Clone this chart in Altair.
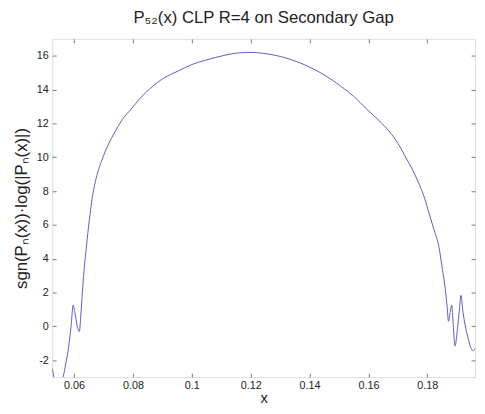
import altair as alt
import pandas as pd

TITLE = "P\u2085\u2082(x) CLP R=4 on Secondary Gap"
X_TITLE = "x"
Y_TITLE = "sgn(P\u2099(x))\u00b7log(|P\u2099(x)|)"

X_VALUES = [0.0526, 0.0533, 0.0545, 0.0556, 0.0563, 0.0572, 0.0581, 0.0590, 0.0597, 0.0603,
            0.0611, 0.0618, 0.0624, 0.0632, 0.0642, 0.0652, 0.0661, 0.0675, 0.0694, 0.0715,
            0.0739, 0.0765, 0.0794, 0.0825, 0.0861, 0.0905, 0.0950, 0.1000, 0.1039, 0.1080,
            0.1117, 0.1160, 0.1200, 0.1240, 0.1283, 0.1340, 0.1394, 0.1450, 0.1506, 0.1550,
            0.1594, 0.1635, 0.1672, 0.1700, 0.1728, 0.1750, 0.1772, 0.1790, 0.1806, 0.1822,
            0.1839, 0.1851, 0.1861, 0.1867, 0.1872, 0.1878, 0.1883, 0.1888, 0.1894, 0.1902,
            0.1909, 0.1914, 0.1920, 0.1928, 0.1937, 0.1944, 0.1950, 0.1956, 0.1962]
Y_VALUES = [-2.5, -3.1, -3.8, -3.4, -3.0, -2.2, -1.3, 0.0, 1.25, 0.8,
            0.0, -0.3, 0.9, 2.9, 4.7, 6.3, 7.5, 8.75, 9.8, 10.7,
            11.5, 12.25, 12.85, 13.5, 14.1, 14.68, 15.07, 15.48, 15.7, 15.9,
            16.05, 16.17, 16.2, 16.15, 16.03, 15.76, 15.38, 14.87, 14.2, 13.6,
            12.85, 12.18, 11.5, 10.82, 9.95, 9.25, 8.41, 7.62, 6.67, 5.75,
            4.73, 3.4, 2.2, 1.2, 0.3, 0.9, 1.25, 0.1, -1.16, -0.2,
            1.0, 1.83, 1.0, 0.1, -0.6, -1.07, -1.35, -1.45, -1.3]

X_DOMAIN = [0.0526, 0.1962]
Y_DOMAIN = [-3, 17]
X_TICKS = [0.06, 0.08, 0.10, 0.12, 0.14, 0.16, 0.18]
Y_TICKS = [-2, 0, 2, 4, 6, 8, 10, 12, 14, 16]

df = pd.DataFrame({"x": X_VALUES, "y": Y_VALUES})

FONT = "Liberation Sans"
AXIS_COLOR = "#7a7a7a"
LABEL_COLOR = "#222222"
LINE_COLOR = "#5e5eba"

xscale = alt.Scale(domain=X_DOMAIN, nice=False, zero=False)
yscale = alt.Scale(domain=Y_DOMAIN, nice=False, zero=False)

main = alt.Chart(df).mark_line(clip=True, color=LINE_COLOR, strokeWidth=1, interpolate="monotone").encode(
    x=alt.X("x:Q", scale=xscale, title=X_TITLE,
            axis=alt.Axis(orient="bottom", values=X_TICKS, format=".2~f", grid=False, domain=False,
                          offset=-4, tickSize=4, tickColor=AXIS_COLOR, labelColor=LABEL_COLOR,
                          labelFont=FONT, labelFontSize=11, labelPadding=3,
                          titleFont=FONT, titleFontSize=15, titleFontWeight="normal",
                          titleColor=LABEL_COLOR, titleBaseline="alphabetic", titleY=30)),
    y=alt.Y("y:Q", scale=yscale, title=Y_TITLE,
            axis=alt.Axis(orient="left", values=Y_TICKS, labelExpr="'' + datum.value", grid=False,
                          domain=False, offset=-4, tickSize=4, tickColor=AXIS_COLOR,
                          labelColor=LABEL_COLOR, labelFont=FONT, labelFontSize=11, labelPadding=4,
                          titleFont=FONT, titleFontSize=17, titleFontWeight="normal",
                          titleColor=LABEL_COLOR, titlePadding=6)),
)

mirror = alt.Chart(df).mark_line(clip=True, strokeOpacity=0).encode(
    x=alt.X("x:Q", scale=xscale, title=None,
            axis=alt.Axis(orient="top", values=X_TICKS, labels=False, grid=False, domain=False,
                          offset=-4, tickSize=4, tickColor=AXIS_COLOR)),
    y=alt.Y("y:Q", scale=yscale, title=None,
            axis=alt.Axis(orient="right", values=Y_TICKS, labels=False, grid=False, domain=False,
                          offset=-4, tickSize=4, tickColor=AXIS_COLOR)),
)

chart = alt.layer(main, mirror).resolve_axis(x="independent", y="independent").properties(
    width=430,
    height=344,
    autosize=alt.AutoSizeParams(type="none"),
    padding={"left": 45, "top": 28, "right": 2, "bottom": 26},
    title=alt.Title(TITLE, font=FONT, fontSize=17, fontWeight="normal", color=LABEL_COLOR,
                    anchor="middle", frame="group", offset=12),
).configure_view(stroke=AXIS_COLOR, strokeWidth=1).configure(background="white")

chart.save("out.html", embed_options={"renderer": "svg", "actions": False})
